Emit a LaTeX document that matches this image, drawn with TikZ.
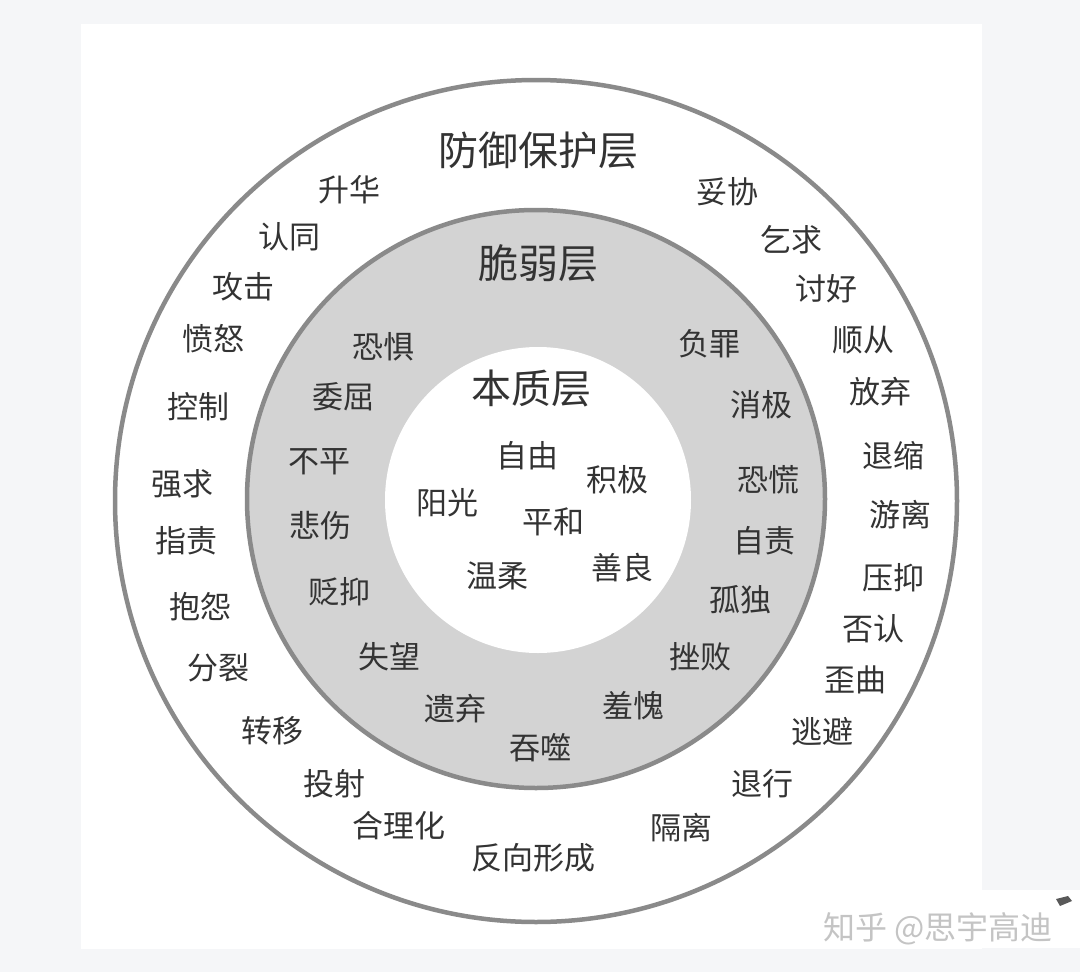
\documentclass[tikz,border=0pt]{standalone}
\usepackage{fontspec}
\setmainfont{Noto Sans CJK SC}
\definecolor{bggray}{HTML}{F5F6F8}
\definecolor{ringline}{HTML}{8A8A8A}
\definecolor{ringfill}{HTML}{D3D3D3}
\definecolor{txt}{HTML}{333333}
\definecolor{wm}{HTML}{C4C4C4}
\tikzset{
  lbl/.style={text=txt, inner sep=0pt, font=\fontsize{31}{31}\selectfont},
  ttl/.style={text=txt, inner sep=0pt, font=\fontsize{40}{40}\selectfont},
  ring/.style={draw=ringline, line width=4.5pt}
}
\begin{document}
\begin{tikzpicture}[x=1pt,y=-1pt]
\useasboundingbox (0,0) rectangle (1080,972);
\fill[bggray] (0,0) rectangle (1080,972);
\fill[white] (81,24) rectangle (982,949);
\fill[white] (982,890) rectangle (1080,948);
% rings
\draw[ring, fill=white] (536,501) circle[radius=421];
\draw[ring, fill=ringfill] (536,499) circle[radius=289];
\fill[white] (538,500) circle[radius=153];
% titles
\node[ttl] (t1) at (538,150) {防御保护层};
\node[ttl] (t2) at (538,263) {脆弱层};
\node[ttl] (t3) at (531,388) {本质层};
% outer ring left
\node[lbl] (o1) at (349,190) {升华};
\node[lbl] (o2) at (289,237) {认同};
\node[lbl] (o3) at (243,287) {攻击};
\node[lbl] (o4) at (213,339) {愤怒};
\node[lbl] (o5) at (198,407) {控制};
\node[lbl] (o6) at (182,484) {强求};
\node[lbl] (o7) at (186,541) {指责};
\node[lbl] (o8) at (200,607) {抱怨};
\node[lbl] (o9) at (218,668) {分裂};
\node[lbl] (o10) at (272,731) {转移};
\node[lbl] (o11) at (334,784) {投射};
\node[lbl] (o12) at (399,826) {合理化};
\node[lbl] (o13) at (533,858) {反向形成};
% outer ring right
\node[lbl] (p1) at (727,192) {妥协};
\node[lbl] (p2) at (791,240) {乞求};
\node[lbl] (p3) at (826,289) {讨好};
\node[lbl] (p4) at (863,340) {顺从};
\node[lbl] (p5) at (880,392) {放弃};
\node[lbl] (p6) at (893,456) {退缩};
\node[lbl] (p7) at (900,515) {游离};
\node[lbl] (p8) at (893,578) {压抑};
\node[lbl] (p9) at (873,629) {否认};
\node[lbl] (p10) at (855,680) {歪曲};
\node[lbl] (p11) at (822,732) {逃避};
\node[lbl] (p12) at (762,784) {退行};
\node[lbl] (p13) at (681,828) {隔离};
% middle ring
\node[lbl] (m1) at (383,347) {恐惧};
\node[lbl] (m2) at (343,397) {委屈};
\node[lbl] (m3) at (319,462) {不平};
\node[lbl] (m4) at (320,526) {悲伤};
\node[lbl] (m5) at (339,592) {贬抑};
\node[lbl] (m6) at (389,657) {失望};
\node[lbl] (m7) at (455,709) {遗弃};
\node[lbl] (m8) at (540,748) {吞噬};
\node[lbl] (m9) at (633,706) {羞愧};
\node[lbl] (m10) at (700,657) {挫败};
\node[lbl] (m11) at (740,600) {孤独};
\node[lbl] (m12) at (764,541) {自责};
\node[lbl] (m13) at (768,480) {恐慌};
\node[lbl] (m14) at (761,405) {消极};
\node[lbl] (m15) at (709,344) {负罪};
% inner
\node[lbl] (i1) at (527,456) {自由};
\node[lbl] (i2) at (617,480) {积极};
\node[lbl] (i3) at (447,503) {阳光};
\node[lbl] (i4) at (553,522) {平和};
\node[lbl] (i5) at (497,576) {温柔};
\node[lbl] (i6) at (622,568) {善良};
% watermark
\node[text=wm, inner sep=0pt, font=\fontsize{32}{32}\selectfont] (wmk) at (938,929) {知乎 @思宇高迪};
\fill[gray!70!black] (1056,899) -- (1068,896) -- (1072,901) -- (1060,906) -- cycle;
\end{tikzpicture}
\end{document}
